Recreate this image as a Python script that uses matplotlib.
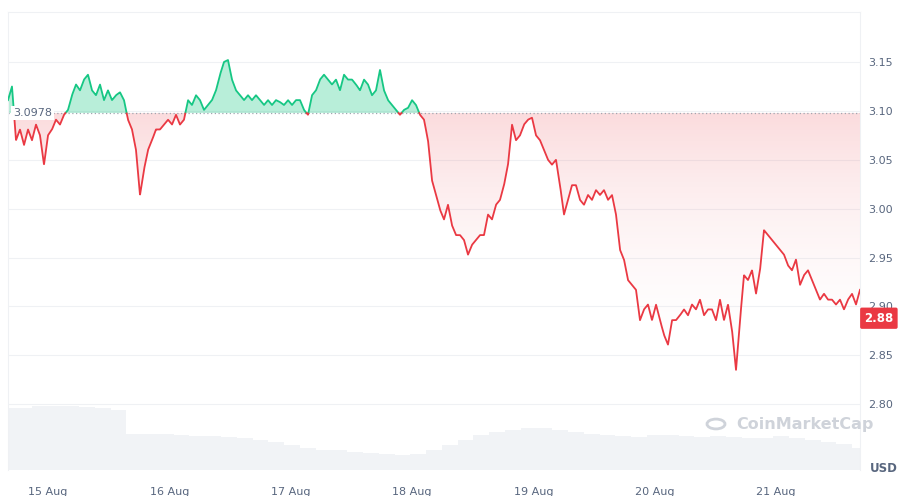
import numpy as np
import pandas as pd
import matplotlib
matplotlib.use("Agg")
import matplotlib.pyplot as plt
import matplotlib.dates as mdates
from matplotlib.patches import Polygon
from matplotlib.colors import LinearSegmentedColormap

price = [3.111,3.125,3.070,3.081,3.065,3.081,3.070,3.086,3.075,3.045,3.075,3.081,3.091,3.086,3.096,3.101,3.116,3.127,3.121,3.132,
3.137,3.121,3.116,3.127,3.111,3.121,3.111,3.116,3.119,3.111,3.091,3.081,3.060,3.014,3.040,3.060,3.070,3.081,3.081,3.086,
3.091,3.086,3.096,3.086,3.091,3.111,3.106,3.116,3.111,3.101,3.106,3.111,3.121,3.137,3.150,3.152,3.132,3.121,3.116,3.111,
3.116,3.111,3.116,3.111,3.106,3.111,3.106,3.111,3.109,3.106,3.111,3.106,3.111,3.111,3.101,3.096,3.116,3.121,3.132,3.137,
3.132,3.127,3.132,3.121,3.137,3.132,3.132,3.127,3.121,3.132,3.127,3.116,3.121,3.142,3.121,3.111,3.106,3.101,3.096,3.101,
3.103,3.111,3.106,3.096,3.091,3.070,3.029,3.014,2.999,2.989,3.004,2.983,2.973,2.973,2.968,2.953,2.963,2.968,2.973,2.973,
2.994,2.989,3.004,3.009,3.024,3.045,3.086,3.070,3.075,3.086,3.091,3.093,3.075,3.070,3.060,3.050,3.045,3.050,3.024,2.994,
3.009,3.024,3.024,3.009,3.004,3.014,3.009,3.019,3.014,3.019,3.009,3.014,2.994,2.958,2.948,2.927,2.922,2.917,2.886,2.897,
2.902,2.886,2.902,2.886,2.871,2.861,2.886,2.886,2.891,2.897,2.891,2.902,2.897,2.907,2.891,2.897,2.897,2.886,2.907,2.886,
2.902,2.876,2.835,2.886,2.932,2.927,2.937,2.913,2.937,2.978,2.973,2.968,2.963,2.958,2.953,2.942,2.937,2.948,2.922,2.932,
2.937,2.927,2.917,2.907,2.913,2.907,2.907,2.902,2.907,2.897,2.907,2.913,2.902,2.917]
volume = [62,62,64,64,64,63,62,60,36,36,36,35,34,34,33,32,30,28,25,22,20,20,18,17,16,15,16,20,25,30,35,38,
40,42,42,40,38,36,35,34,33,35,35,34,33,34,33,32,32,34,32,30,28,26,22]
baseline = 3.0978
last_label = 2.888
x_ticks = ["15 Aug","16 Aug","17 Aug","18 Aug","19 Aug","20 Aug","21 Aug"]
y_ticks = [2.80,2.85,2.90,2.95,3.00,3.05,3.10,3.15]

start = pd.Timestamp("2024-08-14 16:05")
end = pd.Timestamp("2024-08-21 16:37")
t = pd.date_range(start, end, periods=len(price))
tn = mdates.date2num(t)
p = np.array(price)

fig = plt.figure(figsize=(9.09,4.96), dpi=100)
ax = fig.add_axes([8/909, 26/496, 852/909, 458/496])
ymin, ymax = 2.7328, 3.2011
ax.set_ylim(ymin, ymax)
ax.set_xlim(tn[0], tn[-1])

axv = ax.twinx()
axv.set_position(ax.get_position())
tv = np.linspace(tn[0], tn[-1], len(volume))
axv.bar(tv, volume, width=(tv[1]-tv[0]), color="#f1f3f6", align="center", zorder=0)
axv.set_ylim(0, 458)
axv.axis("off")
ax.set_zorder(axv.get_zorder()+1); ax.patch.set_visible(False)

for v in y_ticks:
    ax.axhline(v, color="#eff1f4", lw=0.8, zorder=0)

td = np.linspace(tn[0], tn[-1], 6000)
pd_ = np.interp(td, tn, p)
above = np.where(pd_ >= baseline, pd_, np.nan)
below = np.where(pd_ <= baseline, pd_, np.nan)
ax.plot(td, above, color="#16c784", lw=1.3, zorder=3)
ax.plot(td, below, color="#ea3943", lw=1.3, zorder=3)
ax.fill_between(td, baseline, pd_, where=pd_ >= baseline, color="#16c784", alpha=0.3, lw=0, zorder=2)

grad = np.linspace(0, 1, 256).reshape(-1, 1)
cmap = LinearSegmentedColormap.from_list("r", [(1,1,1,0),(0.918,0.224,0.263,0.18)])
img = ax.imshow(grad, extent=[tn[0], tn[-1], 2.83, baseline], origin="lower", aspect="auto", cmap=cmap, zorder=1)
verts = [(td[0], baseline)] + list(zip(td, np.minimum(pd_, baseline))) + [(td[-1], baseline)]
poly = Polygon(verts, transform=ax.transData, facecolor="none", edgecolor="none")
ax.add_patch(poly)
img.set_clip_path(poly)

ax.axhline(baseline, color="#a0a6b0", lw=0.9, ls=(0,(1,2)), zorder=2)
ax.text(tn[0]+0.04, baseline, "3.0978", fontsize=8, color="#58667e", va="center", ha="left",
        bbox=dict(boxstyle="square,pad=0.2", fc="white", ec="none"), zorder=5)

ax.set_yticks(y_ticks)
ax.yaxis.tick_right()
ax.set_yticklabels([f"{v:.2f}" for v in y_ticks], fontsize=8, color="#58667e")
ax.tick_params(axis="y", length=0, pad=6)
xt = mdates.date2num(pd.date_range("2024-08-15", periods=len(x_ticks), freq="D"))
ax.set_xticks(xt)
ax.set_xticklabels(x_ticks, fontsize=8, color="#58667e")
ax.tick_params(axis="x", length=0, pad=12)
for s in ["top","right","left"]:
    ax.spines[s].set_color("#eff1f4")
ax.spines["bottom"].set_visible(False)

ax.text(1.005, last_label, "2.88", transform=ax.get_yaxis_transform(), fontsize=8.5, color="white",
        fontweight="bold", va="center", ha="left",
        bbox=dict(boxstyle="round,pad=0.35,rounding_size=0.15", fc="#ea3943", ec="none"), zorder=6, clip_on=False)
fig.text(884/909, 1-469/496, "USD", fontsize=8.5, color="#58667e", fontweight="bold", ha="center", va="center")
fig.text(736/909, 1-424/496, "CoinMarketCap", fontsize=11.5, color="#cfd3da", fontweight="bold", ha="left", va="center")
fig.patches.append(matplotlib.patches.Circle((716/909, 1-424/496), 9/909, transform=fig.transFigure,
                   fill=False, ec="#cfd3da", lw=2))
fig.savefig("out.png", dpi=100, facecolor="white")
